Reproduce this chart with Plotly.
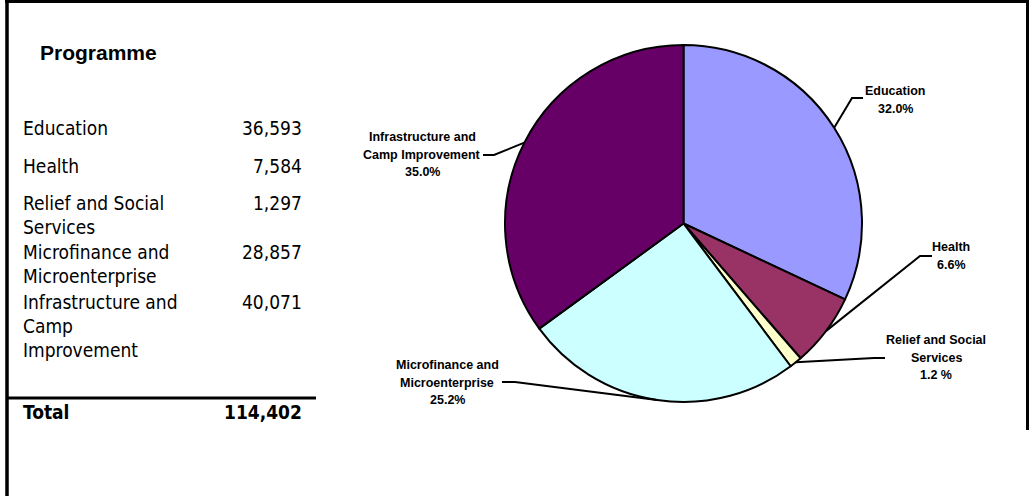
import math
import plotly.graph_objects as go

# ---------------- data ----------------
categories = ["Education", "Health", "Relief and Social Services",
              "Microfinance and Microenterprise", "Infrastructure and Camp Improvement"]
values = [36593, 7584, 1297, 28857, 40071]
colors = ["#9999FF", "#993366", "#FFFFCC", "#CCFFFF", "#660066"]
table_lines = [["Education"], ["Health"], ["Relief and Social", "Services"],
               ["Microfinance and", "Microenterprise"],
               ["Infrastructure and", "Camp", "Improvement"]]
pie_label_lines = [["Education"], ["Health"], ["Relief and Social", "Services"],
                   ["Microfinance and", "Microenterprise"],
                   ["Infrastructure and", "Camp Improvement"]]
pct_labels = ["32.0%", "6.6%", "1.2 %", "25.2%", "35.0%"]
table_title = "Programme"
total_label = "Total"

# ---------------- layout helpers (pixel -> paper) ----------------
W, H = 1029, 496
def px(x):
    return x / W
def py(y):
    return 1 - y / H

CX, CY, R = 683.5, 223.5, 178.5

fig = go.Figure()
fig.add_trace(go.Pie(
    values=values, labels=categories, sort=False, direction="clockwise", rotation=0,
    marker=dict(colors=colors, line=dict(color="black", width=2)),
    textinfo="none", hoverinfo="label+value+percent", showlegend=False,
    domain=dict(x=[px(CX - R), px(CX + R)], y=[py(CY + R), py(CY - R)]),
))

shapes = []
annotations = []

def text(x, y, s, size, bold=False, family="Liberation Sans, Arial", xanchor="center"):
    annotations.append(dict(
        x=px(x), y=py(y), xref="paper", yref="paper", showarrow=False,
        text=("<b>%s</b>" % s) if bold else s, xanchor=xanchor, yanchor="middle",
        font=dict(size=size, family=family, color="black")))

# ---------------- border ----------------
shapes.append(dict(type="line", xref="paper", yref="paper", x0=px(7), x1=px(7),
                   y0=py(0), y1=py(H), line=dict(color="black", width=3.5)))
shapes.append(dict(type="line", xref="paper", yref="paper", x0=px(5), x1=px(1029),
                   y0=py(1.5), y1=py(1.5), line=dict(color="black", width=3)))
shapes.append(dict(type="line", xref="paper", yref="paper", x0=px(1027.5), x1=px(1027.5),
                   y0=py(0), y1=py(430), line=dict(color="black", width=3)))

# ---------------- table ----------------
TF = "DejaVu Sans Condensed, DejaVu Sans, Verdana"
text(98, 53, table_title, 21, bold=True)
row_y = [128, 166, 203, 252, 302]
line_h = 24
for lines, v, y0 in zip(table_lines, values, row_y):
    for k, ln in enumerate(lines):
        text(21, y0 + k * line_h, ln, 19, family=TF, xanchor="left")
    text(304, y0, f"{v:,}", 19, family=TF, xanchor="right")
shapes.append(dict(type="line", xref="paper", yref="paper", x0=px(7), x1=px(316),
                   y0=py(398), y1=py(398), line=dict(color="black", width=3)))
text(21, 412, total_label, 19, bold=True, family=TF, xanchor="left")
text(304, 412, f"{sum(values):,}", 19, bold=True, family=TF, xanchor="right")

# ---------------- pie labels with leader lines ----------------
total = sum(values)
cum = 0
mid_angles = []
for v in values:
    mid_angles.append((cum + v / 2) / total * 2 * math.pi)
    cum += v

label_pos = [(895, 91), (951, 247), (936, 340), (447, 365), (422, 137)]
leader_pts = [[(852, 98), (863, 98)],
              [(920, 256), (932, 256)],
              [(874, 358), (885, 358)],
              [(515, 382), (502, 382)],
              [(494, 155), (483, 155)]]
lab_h = 17.5
for i, (lines, pct) in enumerate(zip(pie_label_lines, pct_labels)):
    lx, ly = label_pos[i]
    allines = lines + [pct]
    for k, ln in enumerate(allines):
        text(lx, ly + k * lab_h, ln, 12.5, bold=True)
    a = mid_angles[i]
    sx = CX + R * math.sin(a)
    sy = CY - R * math.cos(a)
    pts = [(sx, sy)] + leader_pts[i]
    path = "M %f,%f " % (px(pts[0][0]), py(pts[0][1])) + " ".join(
        "L %f,%f" % (px(x), py(y)) for x, y in pts[1:])
    shapes.append(dict(type="path", xref="paper", yref="paper", path=path,
                       line=dict(color="black", width=2)))

fig.update_layout(width=W, height=H, margin=dict(l=0, r=0, t=0, b=0),
                  paper_bgcolor="white", plot_bgcolor="white",
                  shapes=shapes, annotations=annotations)
fig.write_html("out.html", config={"displayModeBar": False},
               post_script="document.body.style.margin='0';document.body.style.overflow='hidden';")
